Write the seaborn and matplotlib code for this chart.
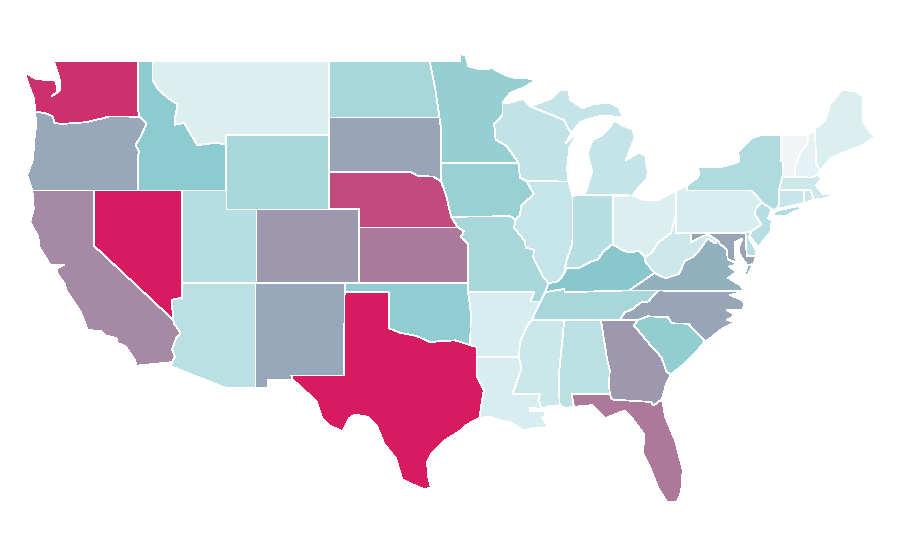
"""Choropleth of the lower 48 states, drawn from lon/lat outlines."""
import matplotlib
matplotlib.use("Agg")
import matplotlib.pyplot as plt
from matplotlib.colors import Normalize
import numpy as np
import seaborn as sns

# --- state outlines (lon, lat) ---
WA = [[(-122.76,49),(-117.03,49),(-117.04,46.42),(-116.92,45.99),(-118.98,46.0),(-119.3,45.93),(-120.5,45.7),(-121.2,45.65),(-122.2,45.6),(-122.7,45.65),(-122.8,46.0),(-123.2,46.15),(-124.0,46.27),(-124.05,46.7),(-124.1,47.0),(-124.4,47.6),(-124.73,48.38),(-124.0,48.05),(-123.1,47.95),(-122.75,48.0),(-122.6,47.9),(-122.5,47.3),(-122.9,47.1),(-122.35,47.4),(-122.3,47.9),(-122.5,48.4)]]
OR = [[(-124.0,46.27),(-123.2,46.15),(-122.8,46.0),(-122.7,45.65),(-122.2,45.6),(-121.2,45.65),(-120.5,45.7),(-119.3,45.93),(-118.98,46.0),(-116.92,45.99),(-116.46,45.6),(-116.85,44.9),(-117.2,44.45),(-116.95,44.1),(-117.03,43.85),(-117.03,42.0),(-124.2,42.0),(-124.55,42.84),(-124.15,43.7),(-124.07,44.7),(-123.95,45.5)]]
CA = [[(-124.2,42),(-120,42),(-120,39),(-114.63,35.0),(-114.57,34.8),(-114.14,34.3),(-114.43,34.05),(-114.72,33.4),(-114.52,33.03),(-114.72,32.72),(-117.12,32.53),(-117.25,32.85),(-117.9,33.6),(-118.4,33.75),(-118.5,34.03),(-119.2,34.15),(-119.6,34.42),(-120.47,34.45),(-120.65,34.9),(-120.9,35.4),(-121.9,36.6),(-122.0,36.95),(-122.5,37.5),(-122.5,37.8),(-122.0,38.0),(-122.4,37.95),(-123.0,38.0),(-123.7,38.9),(-123.8,39.5),(-124.35,40.3),(-124.1,41.0)]]
NV = [[(-120,42),(-114.04,42),(-114.04,36.2),(-114.75,36.1),(-114.63,35.0),(-120,39)]]
ID = [[(-117.03,49),(-116.05,49),(-116.05,48.0),(-115.7,47.5),(-115.0,47.0),(-114.35,46.65),(-114.5,46.0),(-114.55,45.55),(-113.9,45.65),(-113.45,45.05),(-113.0,44.45),(-112.0,44.55),(-111.5,44.55),(-111.05,44.48),(-111.05,42),(-117.03,42),(-117.03,43.85),(-116.95,44.1),(-117.2,44.45),(-116.85,44.9),(-116.46,45.6),(-116.92,46.0),(-117.04,46.42)]]
MT = [[(-116.05,49),(-104.05,49),(-104.05,45),(-111.05,45),(-111.05,44.48),(-111.5,44.55),(-112,44.55),(-113,44.45),(-113.45,45.05),(-113.9,45.65),(-114.55,45.55),(-114.5,46),(-114.35,46.65),(-115,47),(-115.7,47.5),(-116.05,48)]]
WY = [[(-111.05,45),(-104.05,45),(-104.05,41),(-111.05,41)]]
UT = [[(-114.04,42),(-111.05,42),(-111.05,41),(-109.05,41),(-109.05,37),(-114.04,37)]]
CO = [[(-109.05,41),(-102.05,41),(-102.05,37),(-109.05,37)]]
AZ = [[(-114.04,37),(-109.05,37),(-109.05,31.33),(-111.07,31.33),(-114.81,32.5),(-114.72,32.72),(-114.52,33.03),(-114.72,33.4),(-114.43,34.05),(-114.14,34.3),(-114.57,34.8),(-114.63,35),(-114.75,36.1),(-114.04,36.2)]]
NM = [[(-109.05,37),(-103.0,37),(-103.04,32),(-106.62,32),(-106.53,31.78),(-108.21,31.78),(-108.21,31.33),(-109.05,31.33)]]
ND = [[(-104.05,49),(-97.23,49),(-96.85,47.5),(-96.56,45.94),(-104.05,45.94)]]
SD = [[(-104.05,45.94),(-96.56,45.94),(-96.45,45.3),(-96.45,43.5),(-96.45,42.49),(-97.0,42.76),(-98.0,42.77),(-98.5,43.0),(-104.05,43)]]
NE = [[(-104.05,43),(-98.5,43),(-98,42.77),(-97,42.76),(-96.45,42.49),(-96.1,41.7),(-95.9,41.0),(-95.31,40),(-102.05,40),(-102.05,41),(-104.05,41)]]
KS = [[(-102.05,40),(-95.31,40),(-94.9,39.8),(-95.1,39.5),(-94.61,39.1),(-94.61,37),(-102.05,37)]]
OK = [[(-103,37),(-94.62,37),(-94.43,35.4),(-94.48,33.64),(-95.5,33.9),(-96.6,33.85),(-97.2,33.8),(-98.1,34.13),(-99.2,34.3),(-100,34.56),(-100,36.5),(-103,36.5)]]
TX = [[(-103,36.5),(-100,36.5),(-100,34.56),(-99.2,34.3),(-98.1,34.13),(-97.2,33.8),(-96.6,33.85),(-95.5,33.9),(-94.48,33.64),(-94.04,33.55),(-94.04,33.02),(-94.04,32),(-93.55,31.2),(-93.7,30.5),(-93.85,29.7),(-94.7,29.35),(-95.2,29),(-96.2,28.5),(-97.1,27.8),(-97.4,27.3),(-97.35,26.6),(-97.15,25.96),(-97.6,25.85),(-98.2,26.05),(-99.1,26.4),(-99.5,27.5),(-100.3,28.3),(-100.8,29.25),(-101.4,29.77),(-102.3,29.88),(-102.7,29.7),(-103.15,28.97),(-104.0,29.3),(-104.5,29.65),(-104.9,30.6),(-106.0,31.4),(-106.53,31.78),(-106.62,32),(-103.04,32)]]
MN = [[(-97.23,49),(-95.15,49),(-95.15,49.38),(-94.8,49.3),(-94.6,48.72),(-93.8,48.55),(-92.95,48.6),(-92.0,48.2),(-91.4,48.07),(-90.75,48.1),(-90.0,47.95),(-90.9,47.55),(-91.77,47.27),(-92.29,46.73),(-92.29,46.08),(-92.85,45.6),(-92.75,44.75),(-92.0,44.4),(-91.2,43.5),(-96.45,43.5),(-96.45,45.3),(-96.56,45.94),(-96.85,47.5)]]
IA = [[(-96.45,43.5),(-91.2,43.5),(-91.1,42.7),(-90.65,42.5),(-90.15,41.8),(-91.0,41.2),(-91.1,40.7),(-91.42,40.38),(-91.73,40.61),(-95.77,40.58),(-95.9,41.0),(-96.1,41.7),(-96.45,42.49)]]
MO = [[(-95.77,40.58),(-91.73,40.61),(-91.42,40.38),(-91.5,40.0),(-90.75,39.25),(-90.7,38.9),(-90.15,38.8),(-90.2,38.4),(-89.9,37.9),(-89.5,37.3),(-89.15,36.98),(-89.4,36.5),(-89.7,36.0),(-90.37,36.0),(-90.15,36.5),(-94.62,36.5),(-94.62,37),(-94.61,39.1),(-95.1,39.5),(-94.9,39.8),(-95.31,40)]]
AR = [[(-94.62,36.5),(-90.15,36.5),(-90.37,36),(-89.7,36),(-90.1,35.1),(-90.6,34.7),(-91.1,33.8),(-91.17,33.0),(-94.04,33.02),(-94.04,33.55),(-94.48,33.64),(-94.43,35.4)]]
LA = [[(-94.04,33.02),(-91.17,33),(-91.0,32.4),(-91.6,31.0),(-89.73,31),(-89.85,30.65),(-89.6,30.2),(-90.4,30.25),(-90.4,30.05),(-89.4,30.05),(-89.4,29.8),(-89.6,29.7),(-89.2,29.3),(-89.4,29.15),(-90.1,29.15),(-90.9,29.05),(-91.8,29.5),(-92.3,29.55),(-93.2,29.77),(-93.85,29.7),(-93.7,30.5),(-93.55,31.2),(-94.04,32)]]
MS = [[(-91.17,33),(-91.1,33.8),(-90.6,34.7),(-90.3,35),(-88.2,35),(-88.1,34.9),(-88.47,31.9),(-88.4,30.37),(-89.0,30.38),(-89.6,30.2),(-89.85,30.65),(-89.73,31),(-91.6,31),(-91,32.4)]]
AL = [[(-88.2,35),(-85.6,34.98),(-85.18,32.87),(-85.0,32.3),(-85.05,31.55),(-85.0,31),(-87.6,31),(-87.45,30.4),(-87.5,30.3),(-88.0,30.25),(-88.4,30.37),(-88.47,31.9),(-88.1,34.9)]]
TN = [[(-90.3,35),(-88.2,35),(-85.6,34.98),(-84.32,34.99),(-84.0,35.4),(-83.5,35.57),(-82.9,35.95),(-82.4,36.0),(-81.7,36.59),(-83.68,36.6),(-88.07,36.5),(-88.07,36.68),(-89.4,36.5),(-89.7,36)]]
KY = [[(-89.4,36.5),(-88.07,36.68),(-88.07,36.5),(-83.68,36.6),(-81.97,37.54),(-82.6,38.17),(-82.6,38.42),(-83.0,38.73),(-83.7,38.65),(-84.2,38.8),(-84.8,39.1),(-85.4,38.73),(-85.8,38.28),(-86.3,38.15),(-87.1,37.8),(-87.9,37.9),(-88.1,37.5),(-88.5,37.1),(-89.15,36.98)]]
IL = [[(-90.65,42.5),(-87.8,42.49),(-87.53,41.7),(-87.53,39.35),(-87.6,39),(-87.9,38.3),(-88.05,37.8),(-88.1,37.5),(-88.5,37.1),(-89.15,36.98),(-89.5,37.3),(-89.9,37.9),(-90.2,38.4),(-90.15,38.8),(-90.7,38.9),(-90.75,39.25),(-91.5,40),(-91.42,40.38),(-91.1,40.7),(-91,41.2),(-90.15,41.8)]]
IN = [[(-87.53,41.7),(-87.2,41.75),(-86.8,41.76),(-84.8,41.76),(-84.8,39.1),(-85.4,38.73),(-85.8,38.28),(-86.3,38.15),(-87.1,37.8),(-88.05,37.8),(-87.9,38.3),(-87.6,39),(-87.53,39.35)]]
OH = [[(-84.8,41.7),(-83.45,41.73),(-82.7,41.5),(-81.7,41.5),(-80.52,41.98),(-80.52,40.64),(-80.85,39.7),(-81.7,39.2),(-82.2,38.6),(-82.6,38.42),(-83,38.73),(-83.7,38.65),(-84.2,38.8),(-84.8,39.1)]]
MI = [[(-86.8,41.76),(-84.8,41.76),(-83.45,41.73),(-83.15,42.05),(-82.5,42.6),(-82.42,43.0),(-82.6,43.9),(-83.0,44.07),(-83.9,43.65),(-83.3,44.85),(-83.45,45.3),(-84.1,45.5),(-84.75,45.78),(-85.0,45.4),(-85.5,45.0),(-86.2,44.7),(-86.5,44.0),(-86.2,43.0),(-86.6,42.0)],
      [(-90.4,46.55),(-89.0,46.95),(-88.4,47.4),(-87.8,47.45),(-87.7,46.9),(-86.85,46.45),(-86.1,46.67),(-85.0,46.75),(-84.4,46.5),(-84.1,46.0),(-84.7,46.0),(-85.5,46.05),(-86.3,45.9),(-87.0,45.7),(-87.6,45.1),(-87.85,45.4),(-88.1,45.8),(-89.0,46.1)]]
WI = [[(-92.29,46.73),(-92.0,46.7),(-90.9,46.95),(-90.4,46.55),(-89,46.1),(-88.1,45.8),(-87.85,45.4),(-87.6,45.1),(-88.0,44.55),(-87.1,45.25),(-87.75,44.3),(-87.9,43.2),(-87.8,42.49),(-90.65,42.5),(-91.1,42.7),(-91.2,43.5),(-92,44.4),(-92.75,44.75),(-92.85,45.6),(-92.29,46.08)]]
WV = [[(-81.97,37.54),(-81.2,37.25),(-80.3,37.5),(-79.9,38.2),(-79.3,38.42),(-78.9,38.8),(-78.35,39.4),(-77.83,39.13),(-77.72,39.32),(-78.35,39.63),(-78.9,39.45),(-79.48,39.2),(-79.48,39.72),(-80.52,39.72),(-80.52,40.64),(-80.85,39.7),(-81.7,39.2),(-82.2,38.6),(-82.6,38.42),(-82.6,38.17)]]
VA = [[(-83.68,36.6),(-81.7,36.59),(-75.87,36.55),(-76.16,36.89),(-76.97,37.27),(-76.4,37.6),(-76.9,37.9),(-76.3,38.0),(-77.0,38.3),(-77.04,38.8),(-77.5,39.1),(-77.72,39.32),(-77.83,39.13),(-78.35,39.4),(-78.9,38.8),(-79.3,38.42),(-79.9,38.2),(-80.3,37.5),(-81.2,37.25),(-81.97,37.54)],
      [(-75.95,37.15),(-75.65,37.95),(-75.25,38.03),(-75.6,37.5)]]
MD = [[(-79.48,39.72),(-75.79,39.72),(-75.7,38.46),(-75.05,38.45),(-75.25,38.03),(-75.65,37.95),(-75.9,38.2),(-76.2,38.6),(-76.2,39.0),(-76.0,39.4),(-76.5,39.2),(-76.5,38.4),(-76.3,38.05),(-77,38.3),(-77.04,38.8),(-77.5,39.1),(-77.72,39.32),(-78.35,39.63),(-78.9,39.45),(-79.48,39.2)]]
DE = [[(-75.79,39.72),(-75.4,39.8),(-75.55,39.45),(-75.1,38.8),(-75.05,38.45),(-75.7,38.46)]]
PA = [[(-80.52,41.98),(-79.76,42.27),(-79.76,42),(-75.35,42),(-75.05,41.75),(-74.7,41.36),(-75.1,41.0),(-75.13,40.7),(-74.72,40.15),(-75.4,39.8),(-75.79,39.72),(-80.52,39.72),(-80.52,40.64)]]
NY = [[(-79.76,42.27),(-79.05,42.7),(-78.9,42.95),(-79.05,43.27),(-77.5,43.25),(-76.4,43.5),(-76.2,43.6),(-76.3,44.1),(-75.3,44.85),(-74.7,45),(-73.35,45),(-73.35,44.2),(-73.4,43.6),(-73.25,43.55),(-73.28,42.75),(-73.5,42.05),(-73.5,41.3),(-73.65,41.0),(-73.9,40.95),(-74.0,41.0),(-74.7,41.36),(-75.05,41.75),(-75.35,42),(-79.76,42)],
      [(-74.0,40.6),(-73.7,40.9),(-72.3,41.15),(-71.9,41.07),(-73.0,40.65)]]
NJ = [[(-74.7,41.36),(-74,41),(-74.25,40.5),(-74.0,40.4),(-74.1,39.75),(-74.9,38.95),(-75.5,39.5),(-75.4,39.8),(-74.72,40.15),(-75.13,40.7),(-75.1,41)]]
CT = [[(-73.5,42.05),(-71.8,42.02),(-71.85,41.32),(-73.65,41.0),(-73.5,41.3)]]
RI = [[(-71.8,42.02),(-71.38,42.02),(-71.15,41.5),(-71.85,41.32)]]
MA = [[(-73.28,42.75),(-71.3,42.7),(-70.9,42.88),(-70.6,42.65),(-71.0,42.3),(-70.55,41.8),(-70.0,41.8),(-70.0,42.05),(-69.95,41.67),(-70.65,41.55),(-71.15,41.5),(-71.38,42.02),(-73.5,42.05)]]
VT = [[(-73.35,45),(-71.5,45.01),(-71.6,44.5),(-72.05,44.1),(-72.4,43.3),(-72.46,42.73),(-73.28,42.75),(-73.25,43.55),(-73.4,43.6),(-73.35,44.2)]]
NH = [[(-71.5,45.01),(-71.08,45.3),(-70.98,43.4),(-70.7,43.07),(-70.9,42.88),(-71.3,42.7),(-72.46,42.73),(-72.4,43.3),(-72.05,44.1),(-71.6,44.5)]]
ME = [[(-71.08,45.3),(-70.4,45.8),(-70.0,46.7),(-69.23,47.46),(-68.3,47.35),(-67.8,47.07),(-67.8,45.7),(-67.45,45.3),(-67.0,44.85),(-68.0,44.4),(-69.0,44.1),(-70.0,43.75),(-70.7,43.07),(-70.98,43.4)]]
NC = [[(-84.32,34.99),(-83.1,35.0),(-82.4,35.2),(-81.05,35.15),(-80.8,34.82),(-79.67,34.8),(-78.55,33.86),(-78.2,34.0),(-77.31,34.57),(-76.5,34.89),(-77.04,35.0),(-76.5,35.27),(-77.04,35.54),(-76.03,35.54),(-75.82,35.81),(-76.03,36.08),(-76.84,36.35),(-76.3,36.46),(-75.87,36.55),(-81.7,36.59),(-82.4,36),(-82.9,35.95),(-83.5,35.57),(-84,35.4)]]
SC = [[(-83.1,35.0),(-82.4,35.2),(-81.05,35.15),(-80.8,34.82),(-79.67,34.8),(-78.55,33.86),(-79.2,33.2),(-80,32.6),(-80.85,32.05),(-81.15,32.2),(-81.5,33.0),(-82.2,33.6),(-83.35,34.7)]]
GA = [[(-85.6,34.98),(-83.1,35),(-83.35,34.7),(-82.2,33.6),(-81.5,33),(-81.15,32.2),(-80.85,32.05),(-81.2,31.5),(-81.45,30.72),(-82.05,30.37),(-82.2,30.57),(-84.86,30.7),(-85,31),(-85.05,31.55),(-85,32.3),(-85.18,32.87)]]
FL = [[(-87.6,31),(-85,31),(-84.86,30.7),(-82.2,30.57),(-82.05,30.37),(-81.45,30.72),(-81.25,29.8),(-80.55,28.45),(-80.05,26.9),(-80.15,25.75),(-80.4,25.2),(-81.1,25.15),(-81.7,25.9),(-82.2,26.9),(-82.75,27.8),(-82.65,28.8),(-83.4,29.6),(-84.0,30.1),(-85.3,29.7),(-86.2,30.4),(-87.5,30.3),(-87.45,30.4)]]

STATES = [WA, OR, CA, NV, ID, MT, WY, UT, CO, AZ, NM, ND, SD, NE, KS, OK, TX, MN, IA, MO,
          AR, LA, MS, AL, TN, KY, IL, IN, OH, MI, WI, WV, VA, MD, DE, PA, NY, NJ, CT, RI,
          MA, VT, NH, ME, NC, SC, GA, FL]
# valores (escala 0-100), Vermont sem dado
VALUES = [94, 59, 68, 100, 47, 10, 35, 27, 64, 25, 59, 35, 60, 86, 72, 46, 100, 43, 42, 35,
          12, 12, 18, 25, 35, 50, 20, 27, 10, 21, 22, 17, 57, 60, 27, 12, 31, 27, 19, 19,
          17, np.nan, 6, 10, 60, 45, 64, 73]

sns.set_theme(style="white")
cmap = sns.blend_palette(["#f0f8fa", "#87c8cd", "#d81b60"], as_cmap=True)
cmap.set_bad("#f3f4f6")
norm = Normalize(0, 100)

fig = plt.figure(figsize=(9, 5.6), dpi=100)
ax = fig.add_axes([0, 0, 1, 1])
for parts, value in zip(STATES, VALUES):
    for part in parts:
        lons, lats = zip(*part)
        ax.fill(lons, lats, facecolor=cmap(norm(value)), edgecolor="white",
                linewidth=0.55, antialiased=False)

ax.set_xlim(-126.397, -65.297)
ax.set_ylim(22.027, 52.297)
ax.set_axis_off()
fig.savefig("out.png", dpi=100)
